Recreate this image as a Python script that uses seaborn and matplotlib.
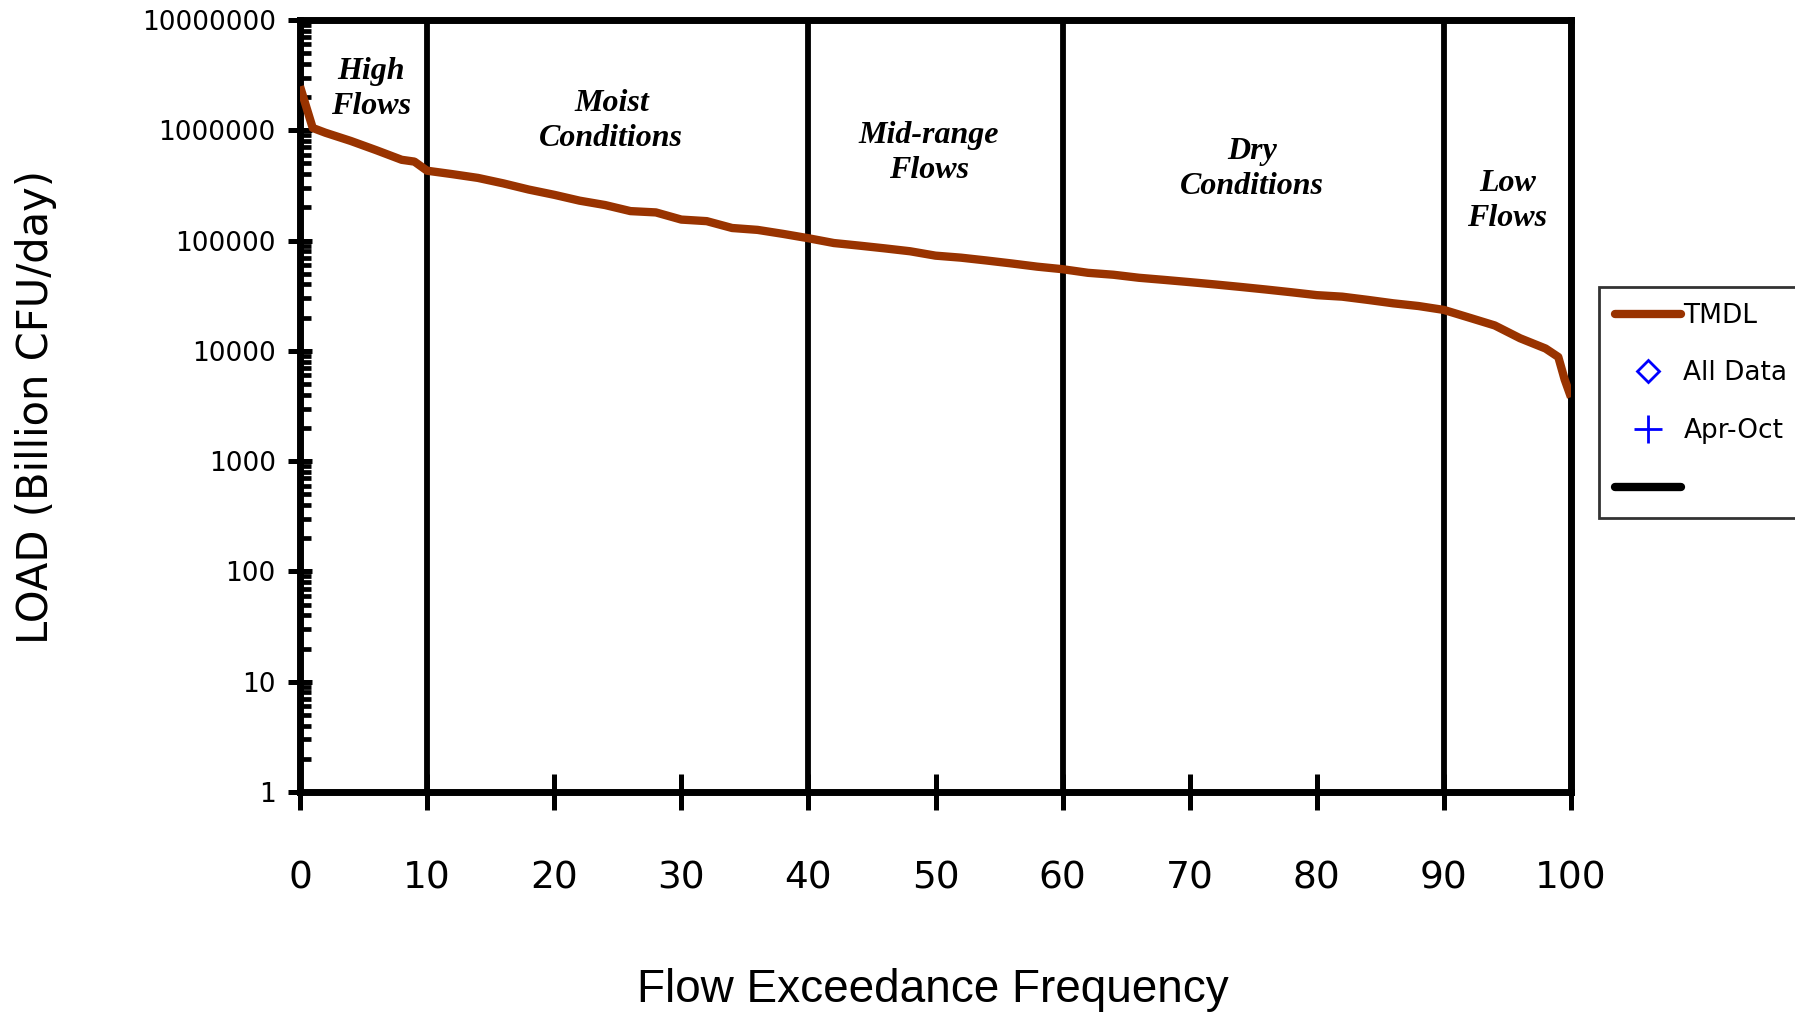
import numpy as np
import pandas as pd
import seaborn as sns
import matplotlib
matplotlib.use("Agg")
import matplotlib.pyplot as plt
from matplotlib.lines import Line2D
from matplotlib.ticker import FixedLocator, LogLocator, FuncFormatter, NullFormatter

# ---- data ----
pct = [0, 1, 2, 4, 6, 8, 9, 10, 12, 14, 16, 18, 20, 22, 24, 26, 28, 30, 32, 34,
       36, 38, 40, 42, 44, 46, 48, 50, 52, 54, 56, 58, 60, 62, 64, 66, 68, 70,
       72, 74, 76, 78, 80, 82, 84, 86, 88, 90, 92, 94, 96, 98, 99, 99.5, 100]
load = [2.5e6, 1.05e6, 9.5e5, 8.0e5, 6.6e5, 5.4e5, 5.2e5, 4.3e5, 4.0e5, 3.7e5,
        3.3e5, 2.9e5, 2.6e5, 2.3e5, 2.1e5, 1.85e5, 1.8e5, 1.55e5, 1.5e5, 1.3e5,
        1.25e5, 1.15e5, 1.05e5, 9.5e4, 9.0e4, 8.5e4, 8.0e4, 7.3e4, 7.0e4, 6.6e4,
        6.2e4, 5.8e4, 5.5e4, 5.1e4, 4.9e4, 4.6e4, 4.4e4, 4.2e4, 4.0e4, 3.8e4,
        3.6e4, 3.4e4, 3.2e4, 3.1e4, 2.9e4, 2.7e4, 2.55e4, 2.35e4, 2.0e4, 1.7e4,
        1.3e4, 1.05e4, 8.8e3, 5.5e3, 3.8e3]
all_data_x, all_data_y = [], []
apr_oct_x, apr_oct_y = [], []
zone_bounds = [10, 40, 60, 90]
zone_names = ["High\nFlows", "Moist\nConditions", "Mid-range\nFlows",
              "Dry\nConditions", "Low\nFlows"]
zone_label_x = [5.6, 24.5, 49.5, 74.9, 95.0]
zone_label_y = [2.37e6, 1.21e6, 6.2e5, 4.46e5, 2.29e5]
x_ticks = list(range(0, 101, 10))
y_ticks = [1, 10, 100, 1000, 10000, 100000, 1000000, 10000000]
legend_labels = ["TMDL", "All Data", "Apr-Oct", ""]

# ---- style ----
sns.set_style("white")
plt.rcParams["font.family"] = ["DejaVu Sans"]
for k in ["text.color", "axes.labelcolor", "xtick.color", "ytick.color"]:
    plt.rcParams[k] = "black"

W, H = 1795, 1017
fig = plt.figure(figsize=(W / 100, H / 100), dpi=100)
ax = fig.add_axes([300 / W, 1 - 792 / H, 1271 / W, (792 - 20) / H])

df = pd.DataFrame({"pct": pct, "load": load})
sns.lineplot(data=df, x="pct", y="load", color="#993300", lw=6,
             estimator=None, sort=False, ax=ax, solid_capstyle="butt", zorder=3)
ax.plot(all_data_x, all_data_y, ls="none", marker="D", mfc="none", mec="blue")
ax.plot(apr_oct_x, apr_oct_y, ls="none", marker="+", color="blue")

for xb in zone_bounds:
    ax.axvline(xb, color="black", lw=4.2, zorder=2)

ax.set_yscale("log")
ax.set_xlim(0, 100)
ax.set_ylim(1, 1e7)

ax.xaxis.set_major_locator(FixedLocator(x_ticks))
ax.yaxis.set_major_locator(FixedLocator(y_ticks))
ax.yaxis.set_minor_locator(LogLocator(base=10, subs=np.arange(2, 10)))
ax.yaxis.set_major_formatter(FuncFormatter(lambda v, p: f"{int(round(v))}"))
ax.yaxis.set_minor_formatter(NullFormatter())

ax.tick_params(axis="x", which="major", direction="inout", length=26, width=3.6,
               color="black", labelcolor="black", labelsize=27, pad=36,
               bottom=True, top=False)
ax.tick_params(axis="y", which="major", direction="inout", length=17, width=3.6,
               color="black", labelcolor="black", labelsize=19, pad=9,
               left=True, right=False)
ax.tick_params(axis="y", which="minor", direction="in", length=8, width=3.4,
               color="black", left=True, right=False)

for s in ax.spines.values():
    s.set_color("black")
    s.set_linewidth(5)

ax.set_xlabel("")
ax.set_ylabel("")

# axis titles
fig.text(933 / W, 1 - 990 / H, "Flow Exceedance Frequency",
         fontsize=33, family=["Liberation Sans", "DejaVu Sans"],
         ha="center", va="center", color="black")
fig.text(36 / W, 1 - 407 / H, "LOAD (Billion CFU/day)", rotation=90,
         fontsize=30, ha="center", va="center", color="black")

for nm, lx, ly in zip(zone_names, zone_label_x, zone_label_y):
    ax.text(lx, ly, nm, ha="center", va="center", fontsize=23,
            family=["Liberation Serif", "DejaVu Serif"], fontweight="bold",
            fontstyle="italic", linespacing=1.25, zorder=4, color="black")

# legend
handles = [
    Line2D([], [], color="#993300", lw=6, solid_capstyle="round"),
    Line2D([], [], ls="none", marker="D", ms=11, mfc="none", mec="blue", mew=2),
    Line2D([], [], ls="none", marker="+", ms=20, color="blue", mew=2),
    Line2D([], [], color="black", lw=6, solid_capstyle="round"),
]
leg = ax.legend(handles, legend_labels, loc="upper left",
                bbox_to_anchor=(1599 / W, 1 - 287 / H), bbox_transform=fig.transFigure,
                fontsize=19, frameon=True, fancybox=False, edgecolor="black",
                handlelength=2.5, handletextpad=0.1, labelspacing=1.2,
                borderpad=0.6, borderaxespad=0)
leg.get_frame().set_linewidth(2)
leg.get_frame().set_facecolor("white")
for t in leg.get_texts():
    t.set_color("black")

fig.savefig("out.png", dpi=100)
